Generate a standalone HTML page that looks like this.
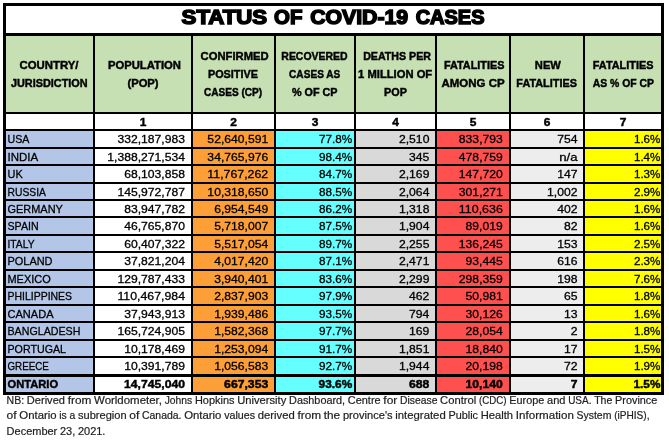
<!DOCTYPE html><html><head><meta charset="utf-8"><title>Status of COVID-19 Cases</title><style>html,body{margin:0;padding:0;background:#fff;width:669px;height:445px;overflow:hidden}svg{display:block}text{fill:#000;stroke:#000;font-family:"Liberation Sans",Arial,sans-serif}.b{font-weight:bold}.f{fill:#222;stroke:#222}</style></head><body>
<svg width="669" height="445" viewBox="0 0 669 445">
<rect x="6" y="36" width="655" height="76" fill="#C6E0B4"/>
<rect x="6" y="131" width="87" height="261" fill="#B4C6E7"/>
<rect x="193" y="131" width="81" height="261" fill="#FD9F38"/>
<rect x="276" y="131" width="78" height="261" fill="#66FFFF"/>
<rect x="356" y="131" width="79" height="261" fill="#D9D9D9"/>
<rect x="437" y="131" width="72" height="261" fill="#FF5050"/>
<rect x="511" y="131" width="72" height="261" fill="#EDEDED"/>
<rect x="585" y="131" width="76" height="261" fill="#FFFF00"/>
<rect x="3" y="3" width="3" height="392"/>
<rect x="93" y="36" width="2" height="356"/>
<rect x="191" y="36" width="2" height="356"/>
<rect x="274" y="36" width="2" height="356"/>
<rect x="354" y="36" width="2" height="356"/>
<rect x="435" y="36" width="2" height="356"/>
<rect x="509" y="36" width="2" height="356"/>
<rect x="583" y="36" width="2" height="356"/>
<rect x="661" y="3" width="3" height="392"/>
<rect x="3" y="3" width="661" height="3"/>
<rect x="3" y="33" width="661" height="3"/>
<rect x="3" y="112" width="661" height="2"/>
<rect x="3" y="129" width="661" height="2"/>
<rect x="3" y="147" width="661" height="2"/>
<rect x="3" y="164" width="661" height="2"/>
<rect x="3" y="182" width="661" height="2"/>
<rect x="3" y="199" width="661" height="2"/>
<rect x="3" y="216" width="661" height="2"/>
<rect x="3" y="234" width="661" height="2"/>
<rect x="3" y="251" width="661" height="2"/>
<rect x="3" y="269" width="661" height="2"/>
<rect x="3" y="286" width="661" height="2"/>
<rect x="3" y="304" width="661" height="2"/>
<rect x="3" y="321" width="661" height="2"/>
<rect x="3" y="339" width="661" height="2"/>
<rect x="3" y="356" width="661" height="2"/>
<rect x="3" y="374" width="661" height="3"/>
<rect x="3" y="392" width="661" height="3"/>
<text class="b" x="224.38" y="24.0" text-anchor="middle" textLength="85.61" lengthAdjust="spacingAndGlyphs" style="font-size:20.0px;stroke-width:1.5px">STATUS</text>
<text class="b" x="288.20" y="24.0" text-anchor="middle" textLength="28.35" lengthAdjust="spacingAndGlyphs" style="font-size:20.0px;stroke-width:1.5px">OF</text>
<text class="b" x="359.16" y="24.0" text-anchor="middle" textLength="97.96" lengthAdjust="spacingAndGlyphs" style="font-size:20.0px;stroke-width:1.5px">COVID-19</text>
<text class="b" x="450.10" y="24.0" text-anchor="middle" textLength="68.84" lengthAdjust="spacingAndGlyphs" style="font-size:20.0px;stroke-width:1.5px">CASES</text>
<text class="b" x="49.04" y="69.10" text-anchor="middle" textLength="59.02" lengthAdjust="spacingAndGlyphs" style="font-size:11.78px;stroke-width:0.45px">COUNTRY/</text>
<text class="b" x="49.29" y="86.80" text-anchor="middle" textLength="76.69" lengthAdjust="spacingAndGlyphs" style="font-size:11.78px;stroke-width:0.45px">JURISDICTION</text>
<text class="b" x="144.43" y="69.10" text-anchor="middle" textLength="73.10" lengthAdjust="spacingAndGlyphs" style="font-size:11.78px;stroke-width:0.45px">POPULATION</text>
<text class="b" x="143.01" y="86.80" text-anchor="middle" textLength="31.16" lengthAdjust="spacingAndGlyphs" style="font-size:11.78px;stroke-width:0.45px">(POP)</text>
<text class="b" x="234.62" y="60.30" text-anchor="middle" textLength="68.03" lengthAdjust="spacingAndGlyphs" style="font-size:11.78px;stroke-width:0.45px">CONFIRMED</text>
<text class="b" x="232.92" y="78.00" text-anchor="middle" textLength="49.92" lengthAdjust="spacingAndGlyphs" style="font-size:11.78px;stroke-width:0.45px">POSITIVE</text>
<text class="b" x="233.09" y="95.70" text-anchor="middle" textLength="58.17" lengthAdjust="spacingAndGlyphs" style="font-size:11.78px;stroke-width:0.45px">CASES (CP)</text>
<text class="b" x="314.48" y="60.30" text-anchor="middle" textLength="66.26" lengthAdjust="spacingAndGlyphs" style="font-size:11.78px;stroke-width:0.45px">RECOVERED</text>
<text class="b" x="314.72" y="78.00" text-anchor="middle" textLength="51.28" lengthAdjust="spacingAndGlyphs" style="font-size:11.78px;stroke-width:0.45px">CASES AS</text>
<text class="b" x="314.71" y="95.70" text-anchor="middle" textLength="45.64" lengthAdjust="spacingAndGlyphs" style="font-size:11.78px;stroke-width:0.45px">% OF CP</text>
<text class="b" x="397.04" y="60.30" text-anchor="middle" textLength="67.82" lengthAdjust="spacingAndGlyphs" style="font-size:11.78px;stroke-width:0.45px">DEATHS PER</text>
<text class="b" x="395.16" y="78.00" text-anchor="middle" textLength="74.08" lengthAdjust="spacingAndGlyphs" style="font-size:11.78px;stroke-width:0.45px">1 MILLION OF</text>
<text class="b" x="395.48" y="95.70" text-anchor="middle" textLength="22.79" lengthAdjust="spacingAndGlyphs" style="font-size:11.78px;stroke-width:0.45px">POP</text>
<text class="b" x="474.22" y="69.10" text-anchor="middle" textLength="60.38" lengthAdjust="spacingAndGlyphs" style="font-size:11.78px;stroke-width:0.45px">FATALITIES</text>
<text class="b" x="473.05" y="86.80" text-anchor="middle" textLength="63.13" lengthAdjust="spacingAndGlyphs" style="font-size:11.78px;stroke-width:0.45px">AMONG CP</text>
<text class="b" x="547.88" y="69.10" text-anchor="middle" textLength="26.05" lengthAdjust="spacingAndGlyphs" style="font-size:11.78px;stroke-width:0.45px">NEW</text>
<text class="b" x="546.64" y="86.80" text-anchor="middle" textLength="60.54" lengthAdjust="spacingAndGlyphs" style="font-size:11.78px;stroke-width:0.45px">FATALITIES</text>
<text class="b" x="623.16" y="69.10" text-anchor="middle" textLength="60.74" lengthAdjust="spacingAndGlyphs" style="font-size:11.78px;stroke-width:0.45px">FATALITIES</text>
<text class="b" x="623.30" y="86.80" text-anchor="middle" textLength="61.21" lengthAdjust="spacingAndGlyphs" style="font-size:11.78px;stroke-width:0.45px">AS % OF CP</text>
<text class="b" x="143.00" y="126.00" text-anchor="middle" textLength="6.64" lengthAdjust="spacingAndGlyphs" style="font-size:11.78px;stroke-width:0.45px">1</text>
<text class="b" x="233.50" y="126.00" text-anchor="middle" textLength="6.64" lengthAdjust="spacingAndGlyphs" style="font-size:11.78px;stroke-width:0.45px">2</text>
<text class="b" x="315.00" y="126.00" text-anchor="middle" textLength="6.64" lengthAdjust="spacingAndGlyphs" style="font-size:11.78px;stroke-width:0.45px">3</text>
<text class="b" x="395.50" y="126.00" text-anchor="middle" textLength="6.64" lengthAdjust="spacingAndGlyphs" style="font-size:11.78px;stroke-width:0.45px">4</text>
<text class="b" x="473.00" y="126.00" text-anchor="middle" textLength="6.64" lengthAdjust="spacingAndGlyphs" style="font-size:11.78px;stroke-width:0.45px">5</text>
<text class="b" x="547.00" y="126.00" text-anchor="middle" textLength="6.64" lengthAdjust="spacingAndGlyphs" style="font-size:11.78px;stroke-width:0.45px">6</text>
<text class="b" x="623.00" y="126.00" text-anchor="middle" textLength="6.64" lengthAdjust="spacingAndGlyphs" style="font-size:11.78px;stroke-width:0.45px">7</text>
<text x="7.50" y="142.80" text-anchor="start" textLength="21.90" lengthAdjust="spacingAndGlyphs" style="font-size:11.78px;stroke-width:0.3px">USA</text>
<text x="185.00" y="142.80" text-anchor="end" textLength="67.59" lengthAdjust="spacingAndGlyphs" style="font-size:11.78px;stroke-width:0.3px">332,187,983</text>
<text x="268.20" y="142.80" text-anchor="end" textLength="60.82" lengthAdjust="spacingAndGlyphs" style="font-size:11.78px;stroke-width:0.3px">52,640,591</text>
<text x="352.20" y="142.80" text-anchor="end" textLength="33.23" lengthAdjust="spacingAndGlyphs" style="font-size:11.78px;stroke-width:0.3px">77.8%</text>
<text x="429.40" y="142.80" text-anchor="end" textLength="30.41" lengthAdjust="spacingAndGlyphs" style="font-size:11.78px;stroke-width:0.3px">2,510</text>
<text x="502.80" y="142.80" text-anchor="end" textLength="43.95" lengthAdjust="spacingAndGlyphs" style="font-size:11.78px;stroke-width:0.3px">833,793</text>
<text x="577.50" y="142.80" text-anchor="end" textLength="20.31" lengthAdjust="spacingAndGlyphs" style="font-size:11.78px;stroke-width:0.3px">754</text>
<text x="660.40" y="142.80" text-anchor="end" textLength="26.46" lengthAdjust="spacingAndGlyphs" style="font-size:11.78px;stroke-width:0.3px">1.6%</text>
<text x="7.50" y="160.80" text-anchor="start" textLength="30.68" lengthAdjust="spacingAndGlyphs" style="font-size:11.78px;stroke-width:0.3px">INDIA</text>
<text x="185.00" y="160.80" text-anchor="end" textLength="77.69" lengthAdjust="spacingAndGlyphs" style="font-size:11.78px;stroke-width:0.3px">1,388,271,534</text>
<text x="268.20" y="160.80" text-anchor="end" textLength="60.82" lengthAdjust="spacingAndGlyphs" style="font-size:11.78px;stroke-width:0.3px">34,765,976</text>
<text x="352.20" y="160.80" text-anchor="end" textLength="33.23" lengthAdjust="spacingAndGlyphs" style="font-size:11.78px;stroke-width:0.3px">98.4%</text>
<text x="429.40" y="160.80" text-anchor="end" textLength="20.31" lengthAdjust="spacingAndGlyphs" style="font-size:11.78px;stroke-width:0.3px">345</text>
<text x="502.80" y="160.80" text-anchor="end" textLength="43.95" lengthAdjust="spacingAndGlyphs" style="font-size:11.78px;stroke-width:0.3px">478,759</text>
<text x="577.50" y="160.80" text-anchor="end" textLength="18.33" lengthAdjust="spacingAndGlyphs" style="font-size:11.78px;stroke-width:0.3px">n/a</text>
<text x="660.40" y="160.80" text-anchor="end" textLength="26.46" lengthAdjust="spacingAndGlyphs" style="font-size:11.78px;stroke-width:0.3px">1.4%</text>
<text x="7.50" y="177.80" text-anchor="start" textLength="15.20" lengthAdjust="spacingAndGlyphs" style="font-size:11.78px;stroke-width:0.3px">UK</text>
<text x="185.00" y="177.80" text-anchor="end" textLength="60.82" lengthAdjust="spacingAndGlyphs" style="font-size:11.78px;stroke-width:0.3px">68,103,858</text>
<text x="268.20" y="177.80" text-anchor="end" textLength="60.82" lengthAdjust="spacingAndGlyphs" style="font-size:11.78px;stroke-width:0.3px">11,767,262</text>
<text x="352.20" y="177.80" text-anchor="end" textLength="33.23" lengthAdjust="spacingAndGlyphs" style="font-size:11.78px;stroke-width:0.3px">84.7%</text>
<text x="429.40" y="177.80" text-anchor="end" textLength="30.41" lengthAdjust="spacingAndGlyphs" style="font-size:11.78px;stroke-width:0.3px">2,169</text>
<text x="502.80" y="177.80" text-anchor="end" textLength="43.95" lengthAdjust="spacingAndGlyphs" style="font-size:11.78px;stroke-width:0.3px">147,720</text>
<text x="577.50" y="177.80" text-anchor="end" textLength="20.31" lengthAdjust="spacingAndGlyphs" style="font-size:11.78px;stroke-width:0.3px">147</text>
<text x="660.40" y="177.80" text-anchor="end" textLength="26.46" lengthAdjust="spacingAndGlyphs" style="font-size:11.78px;stroke-width:0.3px">1.3%</text>
<text x="7.50" y="195.80" text-anchor="start" textLength="38.42" lengthAdjust="spacingAndGlyphs" style="font-size:11.78px;stroke-width:0.3px">RUSSIA</text>
<text x="185.00" y="195.80" text-anchor="end" textLength="67.59" lengthAdjust="spacingAndGlyphs" style="font-size:11.78px;stroke-width:0.3px">145,972,787</text>
<text x="268.20" y="195.80" text-anchor="end" textLength="60.82" lengthAdjust="spacingAndGlyphs" style="font-size:11.78px;stroke-width:0.3px">10,318,650</text>
<text x="352.20" y="195.80" text-anchor="end" textLength="33.23" lengthAdjust="spacingAndGlyphs" style="font-size:11.78px;stroke-width:0.3px">88.5%</text>
<text x="429.40" y="195.80" text-anchor="end" textLength="30.41" lengthAdjust="spacingAndGlyphs" style="font-size:11.78px;stroke-width:0.3px">2,064</text>
<text x="502.80" y="195.80" text-anchor="end" textLength="43.95" lengthAdjust="spacingAndGlyphs" style="font-size:11.78px;stroke-width:0.3px">301,271</text>
<text x="577.50" y="195.80" text-anchor="end" textLength="30.41" lengthAdjust="spacingAndGlyphs" style="font-size:11.78px;stroke-width:0.3px">1,002</text>
<text x="660.40" y="195.80" text-anchor="end" textLength="26.46" lengthAdjust="spacingAndGlyphs" style="font-size:11.78px;stroke-width:0.3px">2.9%</text>
<text x="7.50" y="212.80" text-anchor="start" textLength="55.37" lengthAdjust="spacingAndGlyphs" style="font-size:11.78px;stroke-width:0.3px">GERMANY</text>
<text x="185.00" y="212.80" text-anchor="end" textLength="60.82" lengthAdjust="spacingAndGlyphs" style="font-size:11.78px;stroke-width:0.3px">83,947,782</text>
<text x="268.20" y="212.80" text-anchor="end" textLength="54.05" lengthAdjust="spacingAndGlyphs" style="font-size:11.78px;stroke-width:0.3px">6,954,549</text>
<text x="352.20" y="212.80" text-anchor="end" textLength="33.23" lengthAdjust="spacingAndGlyphs" style="font-size:11.78px;stroke-width:0.3px">86.2%</text>
<text x="429.40" y="212.80" text-anchor="end" textLength="30.41" lengthAdjust="spacingAndGlyphs" style="font-size:11.78px;stroke-width:0.3px">1,318</text>
<text x="502.80" y="212.80" text-anchor="end" textLength="43.95" lengthAdjust="spacingAndGlyphs" style="font-size:11.78px;stroke-width:0.3px">110,636</text>
<text x="577.50" y="212.80" text-anchor="end" textLength="20.31" lengthAdjust="spacingAndGlyphs" style="font-size:11.78px;stroke-width:0.3px">402</text>
<text x="660.40" y="212.80" text-anchor="end" textLength="26.46" lengthAdjust="spacingAndGlyphs" style="font-size:11.78px;stroke-width:0.3px">1.6%</text>
<text x="7.50" y="229.80" text-anchor="start" textLength="31.14" lengthAdjust="spacingAndGlyphs" style="font-size:11.78px;stroke-width:0.3px">SPAIN</text>
<text x="185.00" y="229.80" text-anchor="end" textLength="60.82" lengthAdjust="spacingAndGlyphs" style="font-size:11.78px;stroke-width:0.3px">46,765,870</text>
<text x="268.20" y="229.80" text-anchor="end" textLength="54.05" lengthAdjust="spacingAndGlyphs" style="font-size:11.78px;stroke-width:0.3px">5,718,007</text>
<text x="352.20" y="229.80" text-anchor="end" textLength="33.23" lengthAdjust="spacingAndGlyphs" style="font-size:11.78px;stroke-width:0.3px">87.5%</text>
<text x="429.40" y="229.80" text-anchor="end" textLength="30.41" lengthAdjust="spacingAndGlyphs" style="font-size:11.78px;stroke-width:0.3px">1,904</text>
<text x="502.80" y="229.80" text-anchor="end" textLength="37.18" lengthAdjust="spacingAndGlyphs" style="font-size:11.78px;stroke-width:0.3px">89,019</text>
<text x="577.50" y="229.80" text-anchor="end" textLength="13.54" lengthAdjust="spacingAndGlyphs" style="font-size:11.78px;stroke-width:0.3px">82</text>
<text x="660.40" y="229.80" text-anchor="end" textLength="26.46" lengthAdjust="spacingAndGlyphs" style="font-size:11.78px;stroke-width:0.3px">1.6%</text>
<text x="7.50" y="247.80" text-anchor="start" textLength="27.05" lengthAdjust="spacingAndGlyphs" style="font-size:11.78px;stroke-width:0.3px">ITALY</text>
<text x="185.00" y="247.80" text-anchor="end" textLength="60.82" lengthAdjust="spacingAndGlyphs" style="font-size:11.78px;stroke-width:0.3px">60,407,322</text>
<text x="268.20" y="247.80" text-anchor="end" textLength="54.05" lengthAdjust="spacingAndGlyphs" style="font-size:11.78px;stroke-width:0.3px">5,517,054</text>
<text x="352.20" y="247.80" text-anchor="end" textLength="33.23" lengthAdjust="spacingAndGlyphs" style="font-size:11.78px;stroke-width:0.3px">89.7%</text>
<text x="429.40" y="247.80" text-anchor="end" textLength="30.41" lengthAdjust="spacingAndGlyphs" style="font-size:11.78px;stroke-width:0.3px">2,255</text>
<text x="502.80" y="247.80" text-anchor="end" textLength="43.95" lengthAdjust="spacingAndGlyphs" style="font-size:11.78px;stroke-width:0.3px">136,245</text>
<text x="577.50" y="247.80" text-anchor="end" textLength="20.31" lengthAdjust="spacingAndGlyphs" style="font-size:11.78px;stroke-width:0.3px">153</text>
<text x="660.40" y="247.80" text-anchor="end" textLength="26.46" lengthAdjust="spacingAndGlyphs" style="font-size:11.78px;stroke-width:0.3px">2.5%</text>
<text x="7.50" y="264.80" text-anchor="start" textLength="45.02" lengthAdjust="spacingAndGlyphs" style="font-size:11.78px;stroke-width:0.3px">POLAND</text>
<text x="185.00" y="264.80" text-anchor="end" textLength="60.82" lengthAdjust="spacingAndGlyphs" style="font-size:11.78px;stroke-width:0.3px">37,821,204</text>
<text x="268.20" y="264.80" text-anchor="end" textLength="54.05" lengthAdjust="spacingAndGlyphs" style="font-size:11.78px;stroke-width:0.3px">4,017,420</text>
<text x="352.20" y="264.80" text-anchor="end" textLength="33.23" lengthAdjust="spacingAndGlyphs" style="font-size:11.78px;stroke-width:0.3px">87.1%</text>
<text x="429.40" y="264.80" text-anchor="end" textLength="30.41" lengthAdjust="spacingAndGlyphs" style="font-size:11.78px;stroke-width:0.3px">2,471</text>
<text x="502.80" y="264.80" text-anchor="end" textLength="37.18" lengthAdjust="spacingAndGlyphs" style="font-size:11.78px;stroke-width:0.3px">93,445</text>
<text x="577.50" y="264.80" text-anchor="end" textLength="20.31" lengthAdjust="spacingAndGlyphs" style="font-size:11.78px;stroke-width:0.3px">616</text>
<text x="660.40" y="264.80" text-anchor="end" textLength="26.46" lengthAdjust="spacingAndGlyphs" style="font-size:11.78px;stroke-width:0.3px">2.3%</text>
<text x="7.50" y="282.80" text-anchor="start" textLength="43.22" lengthAdjust="spacingAndGlyphs" style="font-size:11.78px;stroke-width:0.3px">MEXICO</text>
<text x="185.00" y="282.80" text-anchor="end" textLength="67.59" lengthAdjust="spacingAndGlyphs" style="font-size:11.78px;stroke-width:0.3px">129,787,433</text>
<text x="268.20" y="282.80" text-anchor="end" textLength="54.05" lengthAdjust="spacingAndGlyphs" style="font-size:11.78px;stroke-width:0.3px">3,940,401</text>
<text x="352.20" y="282.80" text-anchor="end" textLength="33.23" lengthAdjust="spacingAndGlyphs" style="font-size:11.78px;stroke-width:0.3px">83.6%</text>
<text x="429.40" y="282.80" text-anchor="end" textLength="30.41" lengthAdjust="spacingAndGlyphs" style="font-size:11.78px;stroke-width:0.3px">2,299</text>
<text x="502.80" y="282.80" text-anchor="end" textLength="43.95" lengthAdjust="spacingAndGlyphs" style="font-size:11.78px;stroke-width:0.3px">298,359</text>
<text x="577.50" y="282.80" text-anchor="end" textLength="20.31" lengthAdjust="spacingAndGlyphs" style="font-size:11.78px;stroke-width:0.3px">198</text>
<text x="660.40" y="282.80" text-anchor="end" textLength="26.46" lengthAdjust="spacingAndGlyphs" style="font-size:11.78px;stroke-width:0.3px">7.6%</text>
<text x="7.50" y="299.80" text-anchor="start" textLength="64.59" lengthAdjust="spacingAndGlyphs" style="font-size:11.78px;stroke-width:0.3px">PHILIPPINES</text>
<text x="185.00" y="299.80" text-anchor="end" textLength="67.59" lengthAdjust="spacingAndGlyphs" style="font-size:11.78px;stroke-width:0.3px">110,467,984</text>
<text x="268.20" y="299.80" text-anchor="end" textLength="54.05" lengthAdjust="spacingAndGlyphs" style="font-size:11.78px;stroke-width:0.3px">2,837,903</text>
<text x="352.20" y="299.80" text-anchor="end" textLength="33.23" lengthAdjust="spacingAndGlyphs" style="font-size:11.78px;stroke-width:0.3px">97.9%</text>
<text x="429.40" y="299.80" text-anchor="end" textLength="20.31" lengthAdjust="spacingAndGlyphs" style="font-size:11.78px;stroke-width:0.3px">462</text>
<text x="502.80" y="299.80" text-anchor="end" textLength="37.18" lengthAdjust="spacingAndGlyphs" style="font-size:11.78px;stroke-width:0.3px">50,981</text>
<text x="577.50" y="299.80" text-anchor="end" textLength="13.54" lengthAdjust="spacingAndGlyphs" style="font-size:11.78px;stroke-width:0.3px">65</text>
<text x="660.40" y="299.80" text-anchor="end" textLength="26.46" lengthAdjust="spacingAndGlyphs" style="font-size:11.78px;stroke-width:0.3px">1.8%</text>
<text x="7.50" y="317.80" text-anchor="start" textLength="46.03" lengthAdjust="spacingAndGlyphs" style="font-size:11.78px;stroke-width:0.3px">CANADA</text>
<text x="185.00" y="317.80" text-anchor="end" textLength="60.82" lengthAdjust="spacingAndGlyphs" style="font-size:11.78px;stroke-width:0.3px">37,943,913</text>
<text x="268.20" y="317.80" text-anchor="end" textLength="54.05" lengthAdjust="spacingAndGlyphs" style="font-size:11.78px;stroke-width:0.3px">1,939,486</text>
<text x="352.20" y="317.80" text-anchor="end" textLength="33.23" lengthAdjust="spacingAndGlyphs" style="font-size:11.78px;stroke-width:0.3px">93.5%</text>
<text x="429.40" y="317.80" text-anchor="end" textLength="20.31" lengthAdjust="spacingAndGlyphs" style="font-size:11.78px;stroke-width:0.3px">794</text>
<text x="502.80" y="317.80" text-anchor="end" textLength="37.18" lengthAdjust="spacingAndGlyphs" style="font-size:11.78px;stroke-width:0.3px">30,126</text>
<text x="577.50" y="317.80" text-anchor="end" textLength="13.54" lengthAdjust="spacingAndGlyphs" style="font-size:11.78px;stroke-width:0.3px">13</text>
<text x="660.40" y="317.80" text-anchor="end" textLength="26.46" lengthAdjust="spacingAndGlyphs" style="font-size:11.78px;stroke-width:0.3px">1.6%</text>
<text x="7.50" y="334.80" text-anchor="start" textLength="72.86" lengthAdjust="spacingAndGlyphs" style="font-size:11.78px;stroke-width:0.3px">BANGLADESH</text>
<text x="185.00" y="334.80" text-anchor="end" textLength="67.59" lengthAdjust="spacingAndGlyphs" style="font-size:11.78px;stroke-width:0.3px">165,724,905</text>
<text x="268.20" y="334.80" text-anchor="end" textLength="54.05" lengthAdjust="spacingAndGlyphs" style="font-size:11.78px;stroke-width:0.3px">1,582,368</text>
<text x="352.20" y="334.80" text-anchor="end" textLength="33.23" lengthAdjust="spacingAndGlyphs" style="font-size:11.78px;stroke-width:0.3px">97.7%</text>
<text x="429.40" y="334.80" text-anchor="end" textLength="20.31" lengthAdjust="spacingAndGlyphs" style="font-size:11.78px;stroke-width:0.3px">169</text>
<text x="502.80" y="334.80" text-anchor="end" textLength="37.18" lengthAdjust="spacingAndGlyphs" style="font-size:11.78px;stroke-width:0.3px">28,054</text>
<text x="577.50" y="334.80" text-anchor="end" textLength="6.77" lengthAdjust="spacingAndGlyphs" style="font-size:11.78px;stroke-width:0.3px">2</text>
<text x="660.40" y="334.80" text-anchor="end" textLength="26.46" lengthAdjust="spacingAndGlyphs" style="font-size:11.78px;stroke-width:0.3px">1.8%</text>
<text x="7.50" y="352.80" text-anchor="start" textLength="58.54" lengthAdjust="spacingAndGlyphs" style="font-size:11.78px;stroke-width:0.3px">PORTUGAL</text>
<text x="185.00" y="352.80" text-anchor="end" textLength="60.82" lengthAdjust="spacingAndGlyphs" style="font-size:11.78px;stroke-width:0.3px">10,178,469</text>
<text x="268.20" y="352.80" text-anchor="end" textLength="54.05" lengthAdjust="spacingAndGlyphs" style="font-size:11.78px;stroke-width:0.3px">1,253,094</text>
<text x="352.20" y="352.80" text-anchor="end" textLength="33.23" lengthAdjust="spacingAndGlyphs" style="font-size:11.78px;stroke-width:0.3px">91.7%</text>
<text x="429.40" y="352.80" text-anchor="end" textLength="30.41" lengthAdjust="spacingAndGlyphs" style="font-size:11.78px;stroke-width:0.3px">1,851</text>
<text x="502.80" y="352.80" text-anchor="end" textLength="37.18" lengthAdjust="spacingAndGlyphs" style="font-size:11.78px;stroke-width:0.3px">18,840</text>
<text x="577.50" y="352.80" text-anchor="end" textLength="13.54" lengthAdjust="spacingAndGlyphs" style="font-size:11.78px;stroke-width:0.3px">17</text>
<text x="660.40" y="352.80" text-anchor="end" textLength="26.46" lengthAdjust="spacingAndGlyphs" style="font-size:11.78px;stroke-width:0.3px">1.5%</text>
<text x="7.50" y="369.80" text-anchor="start" textLength="41.38" lengthAdjust="spacingAndGlyphs" style="font-size:11.78px;stroke-width:0.3px">GREECE</text>
<text x="185.00" y="369.80" text-anchor="end" textLength="60.82" lengthAdjust="spacingAndGlyphs" style="font-size:11.78px;stroke-width:0.3px">10,391,789</text>
<text x="268.20" y="369.80" text-anchor="end" textLength="54.05" lengthAdjust="spacingAndGlyphs" style="font-size:11.78px;stroke-width:0.3px">1,056,583</text>
<text x="352.20" y="369.80" text-anchor="end" textLength="33.23" lengthAdjust="spacingAndGlyphs" style="font-size:11.78px;stroke-width:0.3px">92.7%</text>
<text x="429.40" y="369.80" text-anchor="end" textLength="30.41" lengthAdjust="spacingAndGlyphs" style="font-size:11.78px;stroke-width:0.3px">1,944</text>
<text x="502.80" y="369.80" text-anchor="end" textLength="37.18" lengthAdjust="spacingAndGlyphs" style="font-size:11.78px;stroke-width:0.3px">20,198</text>
<text x="577.50" y="369.80" text-anchor="end" textLength="13.54" lengthAdjust="spacingAndGlyphs" style="font-size:11.78px;stroke-width:0.3px">72</text>
<text x="660.40" y="369.80" text-anchor="end" textLength="26.46" lengthAdjust="spacingAndGlyphs" style="font-size:11.78px;stroke-width:0.3px">1.9%</text>
<text class="b" x="7.50" y="387.60" text-anchor="start" textLength="50.58" lengthAdjust="spacingAndGlyphs" style="font-size:11.78px;stroke-width:0.45px">ONTARIO</text>
<text class="b" x="185.00" y="387.60" text-anchor="end" textLength="61.04" lengthAdjust="spacingAndGlyphs" style="font-size:11.78px;stroke-width:0.45px">14,745,040</text>
<text class="b" x="268.20" y="387.60" text-anchor="end" textLength="44.06" lengthAdjust="spacingAndGlyphs" style="font-size:11.78px;stroke-width:0.45px">667,353</text>
<text class="b" x="352.20" y="387.60" text-anchor="end" textLength="33.61" lengthAdjust="spacingAndGlyphs" style="font-size:11.78px;stroke-width:0.45px">93.6%</text>
<text class="b" x="429.40" y="387.60" text-anchor="end" textLength="20.31" lengthAdjust="spacingAndGlyphs" style="font-size:11.78px;stroke-width:0.45px">688</text>
<text class="b" x="502.80" y="387.60" text-anchor="end" textLength="37.29" lengthAdjust="spacingAndGlyphs" style="font-size:11.78px;stroke-width:0.45px">10,140</text>
<text class="b" x="577.50" y="387.60" text-anchor="end" textLength="6.77" lengthAdjust="spacingAndGlyphs" style="font-size:11.78px;stroke-width:0.45px">7</text>
<text class="b" x="660.40" y="387.60" text-anchor="end" textLength="26.84" lengthAdjust="spacingAndGlyphs" style="font-size:11.78px;stroke-width:0.45px">1.5%</text>
<text class="f" x="6.60" y="404.20" text-anchor="start" textLength="17.56" lengthAdjust="spacingAndGlyphs" style="font-size:10.83px;stroke-width:0.2px">NB:</text>
<text class="f" x="26.89" y="404.20" text-anchor="start" textLength="38.04" lengthAdjust="spacingAndGlyphs" style="font-size:10.83px;stroke-width:0.2px">Derived</text>
<text class="f" x="67.66" y="404.20" text-anchor="start" textLength="23.67" lengthAdjust="spacingAndGlyphs" style="font-size:10.83px;stroke-width:0.2px">from</text>
<text class="f" x="94.06" y="404.20" text-anchor="start" textLength="67.88" lengthAdjust="spacingAndGlyphs" style="font-size:10.83px;stroke-width:0.2px">Worldometer,</text>
<text class="f" x="164.67" y="404.20" text-anchor="start" textLength="27.58" lengthAdjust="spacingAndGlyphs" style="font-size:10.83px;stroke-width:0.2px">Johns</text>
<text class="f" x="194.97" y="404.20" text-anchor="start" textLength="39.50" lengthAdjust="spacingAndGlyphs" style="font-size:10.83px;stroke-width:0.2px">Hopkins</text>
<text class="f" x="237.20" y="404.20" text-anchor="start" textLength="49.13" lengthAdjust="spacingAndGlyphs" style="font-size:10.83px;stroke-width:0.2px">University</text>
<text class="f" x="289.06" y="404.20" text-anchor="start" textLength="56.09" lengthAdjust="spacingAndGlyphs" style="font-size:10.83px;stroke-width:0.2px">Dashboard,</text>
<text class="f" x="347.87" y="404.20" text-anchor="start" textLength="32.73" lengthAdjust="spacingAndGlyphs" style="font-size:10.83px;stroke-width:0.2px">Centre</text>
<text class="f" x="383.32" y="404.20" text-anchor="start" textLength="13.99" lengthAdjust="spacingAndGlyphs" style="font-size:10.83px;stroke-width:0.2px">for</text>
<text class="f" x="400.03" y="404.20" text-anchor="start" textLength="37.38" lengthAdjust="spacingAndGlyphs" style="font-size:10.83px;stroke-width:0.2px">Disease</text>
<text class="f" x="440.14" y="404.20" text-anchor="start" textLength="36.18" lengthAdjust="spacingAndGlyphs" style="font-size:10.83px;stroke-width:0.2px">Control</text>
<text class="f" x="479.04" y="404.20" text-anchor="start" textLength="27.58" lengthAdjust="spacingAndGlyphs" style="font-size:10.83px;stroke-width:0.2px">(CDC)</text>
<text class="f" x="509.35" y="404.20" text-anchor="start" textLength="34.92" lengthAdjust="spacingAndGlyphs" style="font-size:10.83px;stroke-width:0.2px">Europe</text>
<text class="f" x="547.00" y="404.20" text-anchor="start" textLength="18.44" lengthAdjust="spacingAndGlyphs" style="font-size:10.83px;stroke-width:0.2px">and</text>
<text class="f" x="568.16" y="404.20" text-anchor="start" textLength="23.27" lengthAdjust="spacingAndGlyphs" style="font-size:10.83px;stroke-width:0.2px">USA.</text>
<text class="f" x="594.16" y="404.20" text-anchor="start" textLength="18.21" lengthAdjust="spacingAndGlyphs" style="font-size:10.83px;stroke-width:0.2px">The</text>
<text class="f" x="615.10" y="404.20" text-anchor="start" textLength="42.18" lengthAdjust="spacingAndGlyphs" style="font-size:10.83px;stroke-width:0.2px">Province</text>
<text class="f" x="6.60" y="418.90" text-anchor="start" textLength="10.04" lengthAdjust="spacingAndGlyphs" style="font-size:10.83px;stroke-width:0.2px">of</text>
<text class="f" x="19.36" y="418.90" text-anchor="start" textLength="37.20" lengthAdjust="spacingAndGlyphs" style="font-size:10.83px;stroke-width:0.2px">Ontario</text>
<text class="f" x="59.28" y="418.90" text-anchor="start" textLength="7.48" lengthAdjust="spacingAndGlyphs" style="font-size:10.83px;stroke-width:0.2px">is</text>
<text class="f" x="69.49" y="418.90" text-anchor="start" textLength="5.77" lengthAdjust="spacingAndGlyphs" style="font-size:10.83px;stroke-width:0.2px">a</text>
<text class="f" x="77.99" y="418.90" text-anchor="start" textLength="48.56" lengthAdjust="spacingAndGlyphs" style="font-size:10.83px;stroke-width:0.2px">subregion</text>
<text class="f" x="129.27" y="418.90" text-anchor="start" textLength="10.04" lengthAdjust="spacingAndGlyphs" style="font-size:10.83px;stroke-width:0.2px">of</text>
<text class="f" x="142.03" y="418.90" text-anchor="start" textLength="39.46" lengthAdjust="spacingAndGlyphs" style="font-size:10.83px;stroke-width:0.2px">Canada.</text>
<text class="f" x="184.22" y="418.90" text-anchor="start" textLength="37.20" lengthAdjust="spacingAndGlyphs" style="font-size:10.83px;stroke-width:0.2px">Ontario</text>
<text class="f" x="224.14" y="418.90" text-anchor="start" textLength="30.86" lengthAdjust="spacingAndGlyphs" style="font-size:10.83px;stroke-width:0.2px">values</text>
<text class="f" x="257.72" y="418.90" text-anchor="start" textLength="36.96" lengthAdjust="spacingAndGlyphs" style="font-size:10.83px;stroke-width:0.2px">derived</text>
<text class="f" x="297.41" y="418.90" text-anchor="start" textLength="23.67" lengthAdjust="spacingAndGlyphs" style="font-size:10.83px;stroke-width:0.2px">from</text>
<text class="f" x="323.81" y="418.90" text-anchor="start" textLength="16.37" lengthAdjust="spacingAndGlyphs" style="font-size:10.83px;stroke-width:0.2px">the</text>
<text class="f" x="342.91" y="418.90" text-anchor="start" textLength="49.66" lengthAdjust="spacingAndGlyphs" style="font-size:10.83px;stroke-width:0.2px">province's</text>
<text class="f" x="395.29" y="418.90" text-anchor="start" textLength="50.43" lengthAdjust="spacingAndGlyphs" style="font-size:10.83px;stroke-width:0.2px">integrated</text>
<text class="f" x="448.45" y="418.90" text-anchor="start" textLength="29.53" lengthAdjust="spacingAndGlyphs" style="font-size:10.83px;stroke-width:0.2px">Public</text>
<text class="f" x="480.70" y="418.90" text-anchor="start" textLength="32.42" lengthAdjust="spacingAndGlyphs" style="font-size:10.83px;stroke-width:0.2px">Health</text>
<text class="f" x="515.85" y="418.90" text-anchor="start" textLength="57.99" lengthAdjust="spacingAndGlyphs" style="font-size:10.83px;stroke-width:0.2px">Information</text>
<text class="f" x="576.56" y="418.90" text-anchor="start" textLength="34.85" lengthAdjust="spacingAndGlyphs" style="font-size:10.83px;stroke-width:0.2px">System</text>
<text class="f" x="614.14" y="418.90" text-anchor="start" textLength="35.40" lengthAdjust="spacingAndGlyphs" style="font-size:10.83px;stroke-width:0.2px">(iPHIS),</text>
<text class="f" x="6.60" y="434.60" text-anchor="start" textLength="50.68" lengthAdjust="spacingAndGlyphs" style="font-size:10.83px;stroke-width:0.2px">December</text>
<text class="f" x="60.00" y="434.60" text-anchor="start" textLength="15.23" lengthAdjust="spacingAndGlyphs" style="font-size:10.83px;stroke-width:0.2px">23,</text>
<text class="f" x="77.95" y="434.60" text-anchor="start" textLength="27.48" lengthAdjust="spacingAndGlyphs" style="font-size:10.83px;stroke-width:0.2px">2021.</text>
</svg></body></html>
